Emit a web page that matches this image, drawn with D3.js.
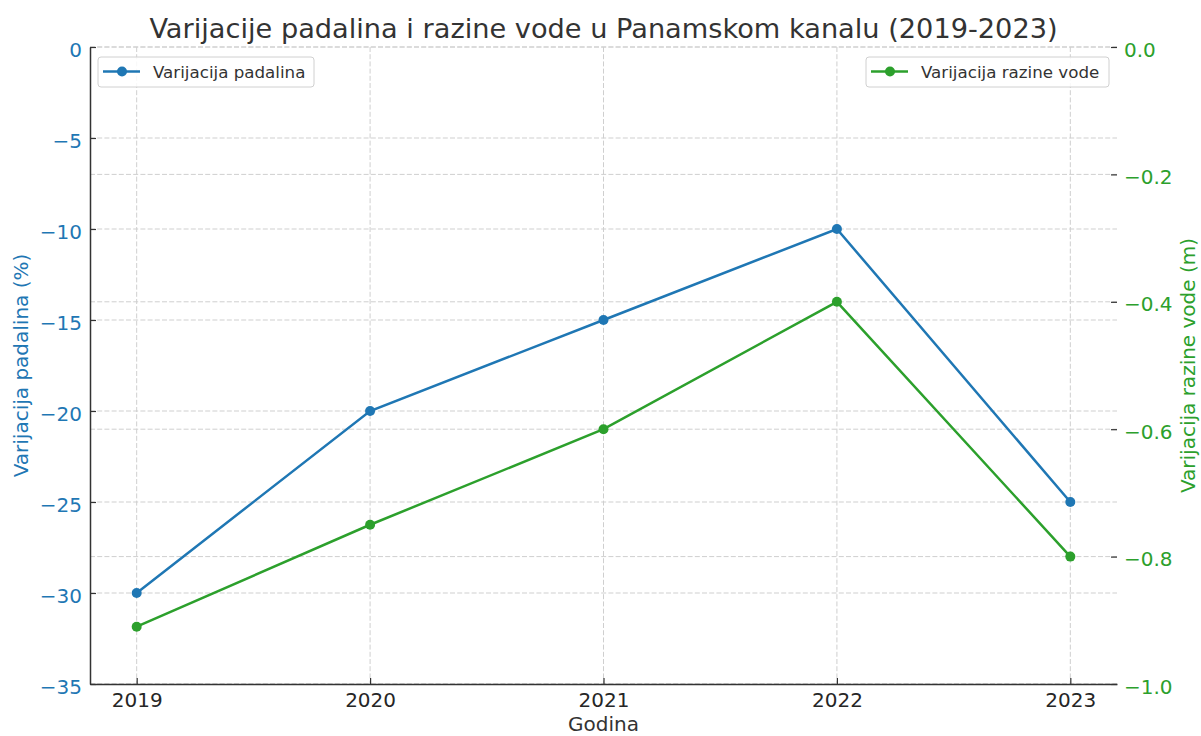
<!DOCTYPE html>
<meta charset="utf-8">
<script src="https://d3js.org/d3.v7.min.js"></script>
<style>
  body { margin: 0; background: #fff; }
  text { font-family: "DejaVu Sans", sans-serif; }
</style>
<div id="chart"></div>
<script>

// data
var years = [2019, 2020, 2021, 2022, 2023];
var rainfall = [-30, -20, -15, -10, -25];          // %
var waterLevel = [-0.91, -0.75, -0.6, -0.4, -0.8];  // m
var leftTicks = [-35, -30, -25, -20, -15, -10, -5, 0];
var rightTicks = [-1.0, -0.8, -0.6, -0.4, -0.2, 0.0];

var blue = "#1f77b4", green = "#2ca02c", ink = "#333";

var W = 1201, H = 736;
var margin = {top: 47, right: 84, bottom: 52, left: 90};
var width = W - margin.left - margin.right,
    height = H - margin.top - margin.bottom;

var svg = d3.select("#chart").append("svg")
    .attr("width", W).attr("height", H);

var g = svg.append("g")
    .attr("transform", "translate(" + margin.left + "," + margin.top + ")");

// scales (matplotlib style 5% padding on x)
var x = d3.scaleLinear().domain([2018.8, 2023.2]).range([0, width]);
var yL = d3.scaleLinear().domain([-35, 0]).range([height, 0]);
var yR = d3.scaleLinear().domain([-1, 0]).range([height, 0]);

// grid lines
var grid = g.append("g")
    .attr("stroke", "#cfcfcf").attr("stroke-width", 1)
    .attr("stroke-dasharray", "5,2.2").attr("fill", "none");
grid.selectAll(".vx").data(years).enter().append("line")
    .attr("x1", function(d) { return x(d); }).attr("x2", function(d) { return x(d); })
    .attr("y1", 0).attr("y2", height);
grid.selectAll(".hl").data(leftTicks).enter().append("line")
    .attr("x1", 0).attr("x2", width)
    .attr("y1", function(d) { return yL(d); }).attr("y2", function(d) { return yL(d); });
grid.selectAll(".hr").data(rightTicks).enter().append("line")
    .attr("x1", 0).attr("x2", width)
    .attr("y1", function(d) { return yR(d); }).attr("y2", function(d) { return yR(d); });

// axes, ticks pointing inward
var axL = g.append("g")
    .call(d3.axisLeft(yL).tickValues(leftTicks).tickSizeInner(-6).tickSizeOuter(0).tickPadding(8)
      .tickFormat(d3.format("d")));
axL.select(".domain").attr("stroke", ink).attr("stroke-width", 1.5);
axL.selectAll(".tick line").attr("stroke", ink).attr("stroke-width", 1.2);
axL.selectAll(".tick text").attr("fill", blue).style("font-size", "20px").attr("dy", "0.45em");

var axB = g.append("g")
    .attr("transform", "translate(0," + height + ")")
    .call(d3.axisBottom(x).tickValues(years).tickSizeInner(-6).tickSizeOuter(0).tickPadding(9)
      .tickFormat(d3.format("d")));
axB.select(".domain").attr("stroke", ink).attr("stroke-width", 1.5);
axB.selectAll(".tick line").attr("stroke", ink).attr("stroke-width", 1.2);
axB.selectAll(".tick text").attr("fill", "#262626").style("font-size", "20px");

var axR = g.append("g")
    .attr("transform", "translate(" + width + ",0)")
    .call(d3.axisRight(yR).tickValues(rightTicks).tickSizeInner(-6).tickSizeOuter(0).tickPadding(7)
      .tickFormat(d3.format(".1f")));
axR.select(".domain").remove();
axR.selectAll(".tick line").attr("stroke", ink).attr("stroke-width", 1.2);
axR.selectAll(".tick text").attr("fill", green).style("font-size", "20px").attr("dy", "0.45em");

// series
function series(vals, yScale, color) {
  var pts = years.map(function(yr, i) { return [yr, vals[i]]; });
  g.append("path").datum(pts)
    .attr("fill", "none").attr("stroke", color).attr("stroke-width", 2.5)
    .attr("d", d3.line().x(function(d) { return x(d[0]); }).y(function(d) { return yScale(d[1]); }));
  g.selectAll(null).data(pts).enter().append("circle")
    .attr("cx", function(d) { return x(d[0]); })
    .attr("cy", function(d) { return yScale(d[1]); })
    .attr("r", 5).attr("fill", color);
}
series(rainfall, yL, blue);
series(waterLevel, yR, green);

// legends
function legend(x0, w, label, color) {
  var lg = g.append("g").attr("transform", "translate(" + x0 + ",10)");
  lg.append("rect").attr("width", w).attr("height", 30).attr("rx", 3)
    .attr("fill", "#fff").attr("fill-opacity", 0.85)
    .attr("stroke", "#d0d0d0").attr("stroke-width", 1);
  lg.append("line").attr("x1", 5).attr("x2", 42).attr("y1", 14.5).attr("y2", 14.5)
    .attr("stroke", color).attr("stroke-width", 2.5);
  lg.append("circle").attr("cx", 24).attr("cy", 14.5).attr("r", 5).attr("fill", color);
  lg.append("text").attr("x", 55).attr("y", 20.5).attr("fill", ink)
    .style("font-size", "16.7px").text(label);
}
legend(8, 216, "Varijacija padalina", blue);
legend(776, 243, "Varijacija razine vode", green);

// title and axis labels
svg.append("text")
    .attr("x", margin.left + width / 2).attr("y", 38)
    .attr("text-anchor", "middle").attr("fill", ink).style("font-size", "27.2px")
    .text("Varijacije padalina i razine vode u Panamskom kanalu (2019-2023)");

svg.append("text")
    .attr("x", margin.left + width / 2).attr("y", 731)
    .attr("text-anchor", "middle").attr("fill", ink).style("font-size", "20px")
    .text("Godina");

svg.append("text")
    .attr("transform", "translate(28," + (margin.top + height / 2) + ") rotate(-90)")
    .attr("text-anchor", "middle").attr("fill", blue).style("font-size", "20px")
    .text("Varijacija padalina (%)");

svg.append("text")
    .attr("transform", "translate(1195," + (margin.top + height / 2) + ") rotate(-90)")
    .attr("text-anchor", "middle").attr("fill", green).style("font-size", "20px")
    .text("Varijacija razine vode (m)");

</script>
